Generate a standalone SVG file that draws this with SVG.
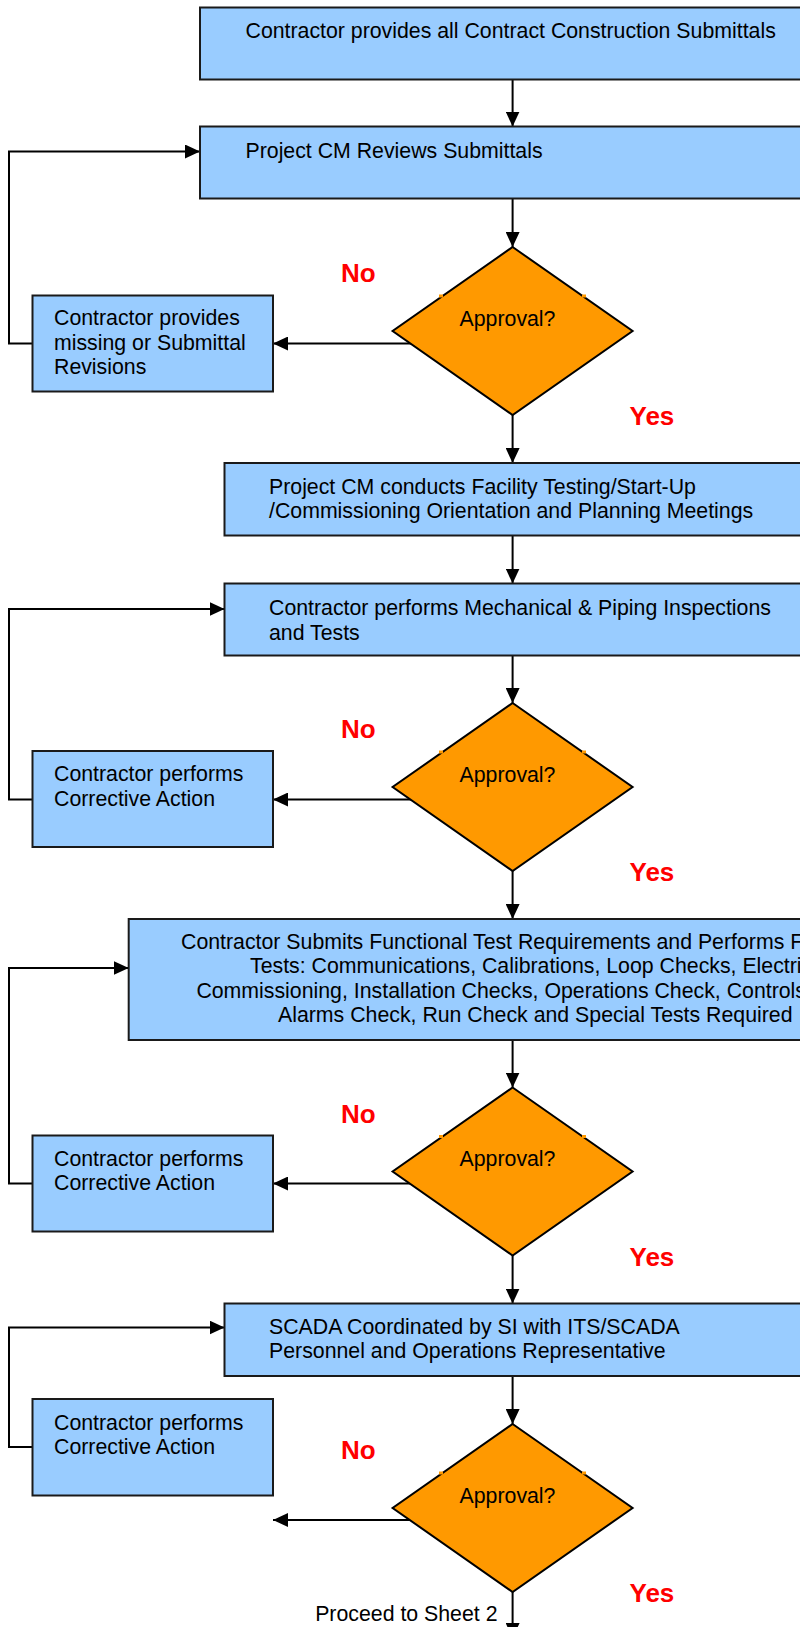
<svg xmlns="http://www.w3.org/2000/svg" width="800" height="1627" viewBox="0 0 800 1627">
<style>
.box{fill:#99CCFF;stroke:#1a1a1a;stroke-width:2}
.dia{fill:#FF9900;stroke:#000;stroke-width:2}
.notch{fill:#FF9900}
.t{font-family:"Liberation Sans",Arial,sans-serif;font-size:21.3px;fill:#000}
.c{text-anchor:middle}
.lbl{font-family:"Liberation Sans",Arial,sans-serif;font-size:26px;font-weight:bold;fill:#FF0000}
.con{fill:none;stroke:#000;stroke-width:2}
</style>
<defs>
<marker id="ah" markerUnits="userSpaceOnUse" markerWidth="15" markerHeight="14" refX="15" refY="7" orient="auto">
<path d="M0,0 L15,7 L0,14 z" fill="#000"/>
</marker>
</defs>
<rect width="800" height="1627" fill="#fff"/>

<g id="connectors">
<line class="con" x1="512.6" y1="79.5" x2="512.6" y2="126.5" marker-end="url(#ah)"/>
<line class="con" x1="512.6" y1="198.5" x2="512.6" y2="247" marker-end="url(#ah)"/>
<line class="con" x1="417" y1="343.5" x2="273" y2="343.5" marker-end="url(#ah)"/>
<polyline class="con" points="32.5,343.5 9,343.5 9,151.5 200,151.5" marker-end="url(#ah)"/>
<line class="con" x1="512.6" y1="415" x2="512.6" y2="463" marker-end="url(#ah)"/>
<line class="con" x1="512.6" y1="535.5" x2="512.6" y2="583.5" marker-end="url(#ah)"/>
<line class="con" x1="512.6" y1="655.5" x2="512.6" y2="703" marker-end="url(#ah)"/>
<line class="con" x1="417" y1="799.5" x2="273" y2="799.5" marker-end="url(#ah)"/>
<polyline class="con" points="32.5,799.5 9,799.5 9,609 224.5,609" marker-end="url(#ah)"/>
<line class="con" x1="512.6" y1="871" x2="512.6" y2="919" marker-end="url(#ah)"/>
<line class="con" x1="512.6" y1="1040" x2="512.6" y2="1087.5" marker-end="url(#ah)"/>
<line class="con" x1="417" y1="1183.5" x2="273" y2="1183.5" marker-end="url(#ah)"/>
<polyline class="con" points="32.5,1183.5 9,1183.5 9,968 128.7,968" marker-end="url(#ah)"/>
<line class="con" x1="512.6" y1="1255.5" x2="512.6" y2="1303.5" marker-end="url(#ah)"/>
<line class="con" x1="512.6" y1="1376" x2="512.6" y2="1424" marker-end="url(#ah)"/>
<line class="con" x1="417" y1="1520" x2="273" y2="1520" marker-end="url(#ah)"/>
<polyline class="con" points="32.5,1447 9,1447 9,1327.5 224.5,1327.5" marker-end="url(#ah)"/>
<line class="con" x1="512.6" y1="1592" x2="512.6" y2="1638" marker-end="url(#ah)"/>
</g>

<g id="n1">
<rect class="box" x="200" y="7.5" width="640" height="72"/>
<text class="t" x="245.5" y="38">Contractor provides all Contract Construction Submittals</text>
</g>
<g id="n2">
<rect class="box" x="200" y="126.5" width="640" height="72"/>
<text class="t" x="245.5" y="158">Project CM Reviews Submittals</text>
</g>
<g id="d1">
<polygon class="dia" points="512.6,247 632.6,331 512.6,415 392.6,331"/>
<rect class="notch" x="439" y="294.5" width="4" height="3"/>
<rect class="notch" x="582" y="294.5" width="4" height="3"/>
<text class="t c" x="507.5" y="325.5">Approval?</text>
</g>
<g id="l1">
<text class="lbl" x="341" y="282">No</text>
<text class="lbl" x="629.5" y="425">Yes</text>
</g>
<g id="n1b">
<rect class="box" x="32.5" y="295.5" width="240.5" height="96"/>
<text class="t" x="54" y="325">Contractor provides</text>
<text class="t" x="54" y="349.5">missing or Submittal</text>
<text class="t" x="54" y="374">Revisions</text>
</g>

<g id="n3">
<rect class="box" x="224.5" y="463" width="620" height="72.5"/>
<text class="t" x="269" y="493.5">Project CM conducts Facility Testing/Start-Up</text>
<text class="t" x="269" y="518">/Commissioning Orientation and Planning Meetings</text>
</g>
<g id="n4">
<rect class="box" x="224.5" y="583.5" width="620" height="72"/>
<text class="t" x="269" y="615">Contractor performs Mechanical &amp; Piping Inspections</text>
<text class="t" x="269" y="639.5">and Tests</text>
</g>
<g id="d2">
<polygon class="dia" points="512.6,703 632.6,787 512.6,871 392.6,787"/>
<rect class="notch" x="439" y="750.5" width="4" height="3"/>
<rect class="notch" x="582" y="750.5" width="4" height="3"/>
<text class="t c" x="507.5" y="781.5">Approval?</text>
</g>
<g id="l2">
<text class="lbl" x="341" y="738">No</text>
<text class="lbl" x="629.5" y="881">Yes</text>
</g>
<g id="n2b">
<rect class="box" x="32.5" y="751" width="240.5" height="96"/>
<text class="t" x="54" y="781">Contractor performs</text>
<text class="t" x="54" y="805.5">Corrective Action</text>
</g>

<g id="n5">
<rect class="box" x="128.7" y="919" width="720" height="121"/>
<text class="t" x="181" y="948.5">Contractor Submits Functional Test Requirements and Performs F</text>
<text class="t" x="250" y="973">Tests: Communications, Calibrations, Loop Checks, Electri</text>
<text class="t" x="196.4" y="997.5">Commissioning, Installation Checks, Operations Check, Controls</text>
<text class="t" x="278" y="1022">Alarms Check, Run Check and Special Tests Required</text>
</g>
<g id="d3">
<polygon class="dia" points="512.6,1087.5 632.6,1171.5 512.6,1255.5 392.6,1171.5"/>
<rect class="notch" x="439" y="1135" width="4" height="3"/>
<rect class="notch" x="582" y="1135" width="4" height="3"/>
<text class="t c" x="507.5" y="1166">Approval?</text>
</g>
<g id="l3">
<text class="lbl" x="341" y="1122.5">No</text>
<text class="lbl" x="629.5" y="1265.5">Yes</text>
</g>
<g id="n3b">
<rect class="box" x="32.5" y="1135.5" width="240.5" height="96"/>
<text class="t" x="54" y="1165.5">Contractor performs</text>
<text class="t" x="54" y="1190">Corrective Action</text>
</g>

<g id="n6">
<rect class="box" x="224.5" y="1303.5" width="620" height="72.5"/>
<text class="t" x="269" y="1333.5">SCADA Coordinated by SI with ITS/SCADA</text>
<text class="t" x="269" y="1358">Personnel and Operations Representative</text>
</g>
<g id="n4b">
<rect class="box" x="32.5" y="1399" width="240.5" height="96.5"/>
<text class="t" x="54" y="1429.5">Contractor performs</text>
<text class="t" x="54" y="1454">Corrective Action</text>
</g>
<g id="d4">
<polygon class="dia" points="512.6,1424 632.6,1508 512.6,1592 392.6,1508"/>
<rect class="notch" x="439" y="1471.5" width="4" height="3"/>
<rect class="notch" x="582" y="1471.5" width="4" height="3"/>
<text class="t c" x="507.5" y="1502.5">Approval?</text>
</g>
<g id="l4">
<text class="lbl" x="341" y="1459">No</text>
<text class="lbl" x="629.5" y="1602">Yes</text>
<text class="t" x="497.5" y="1621" text-anchor="end">Proceed to Sheet 2</text>
</g>
</svg>
